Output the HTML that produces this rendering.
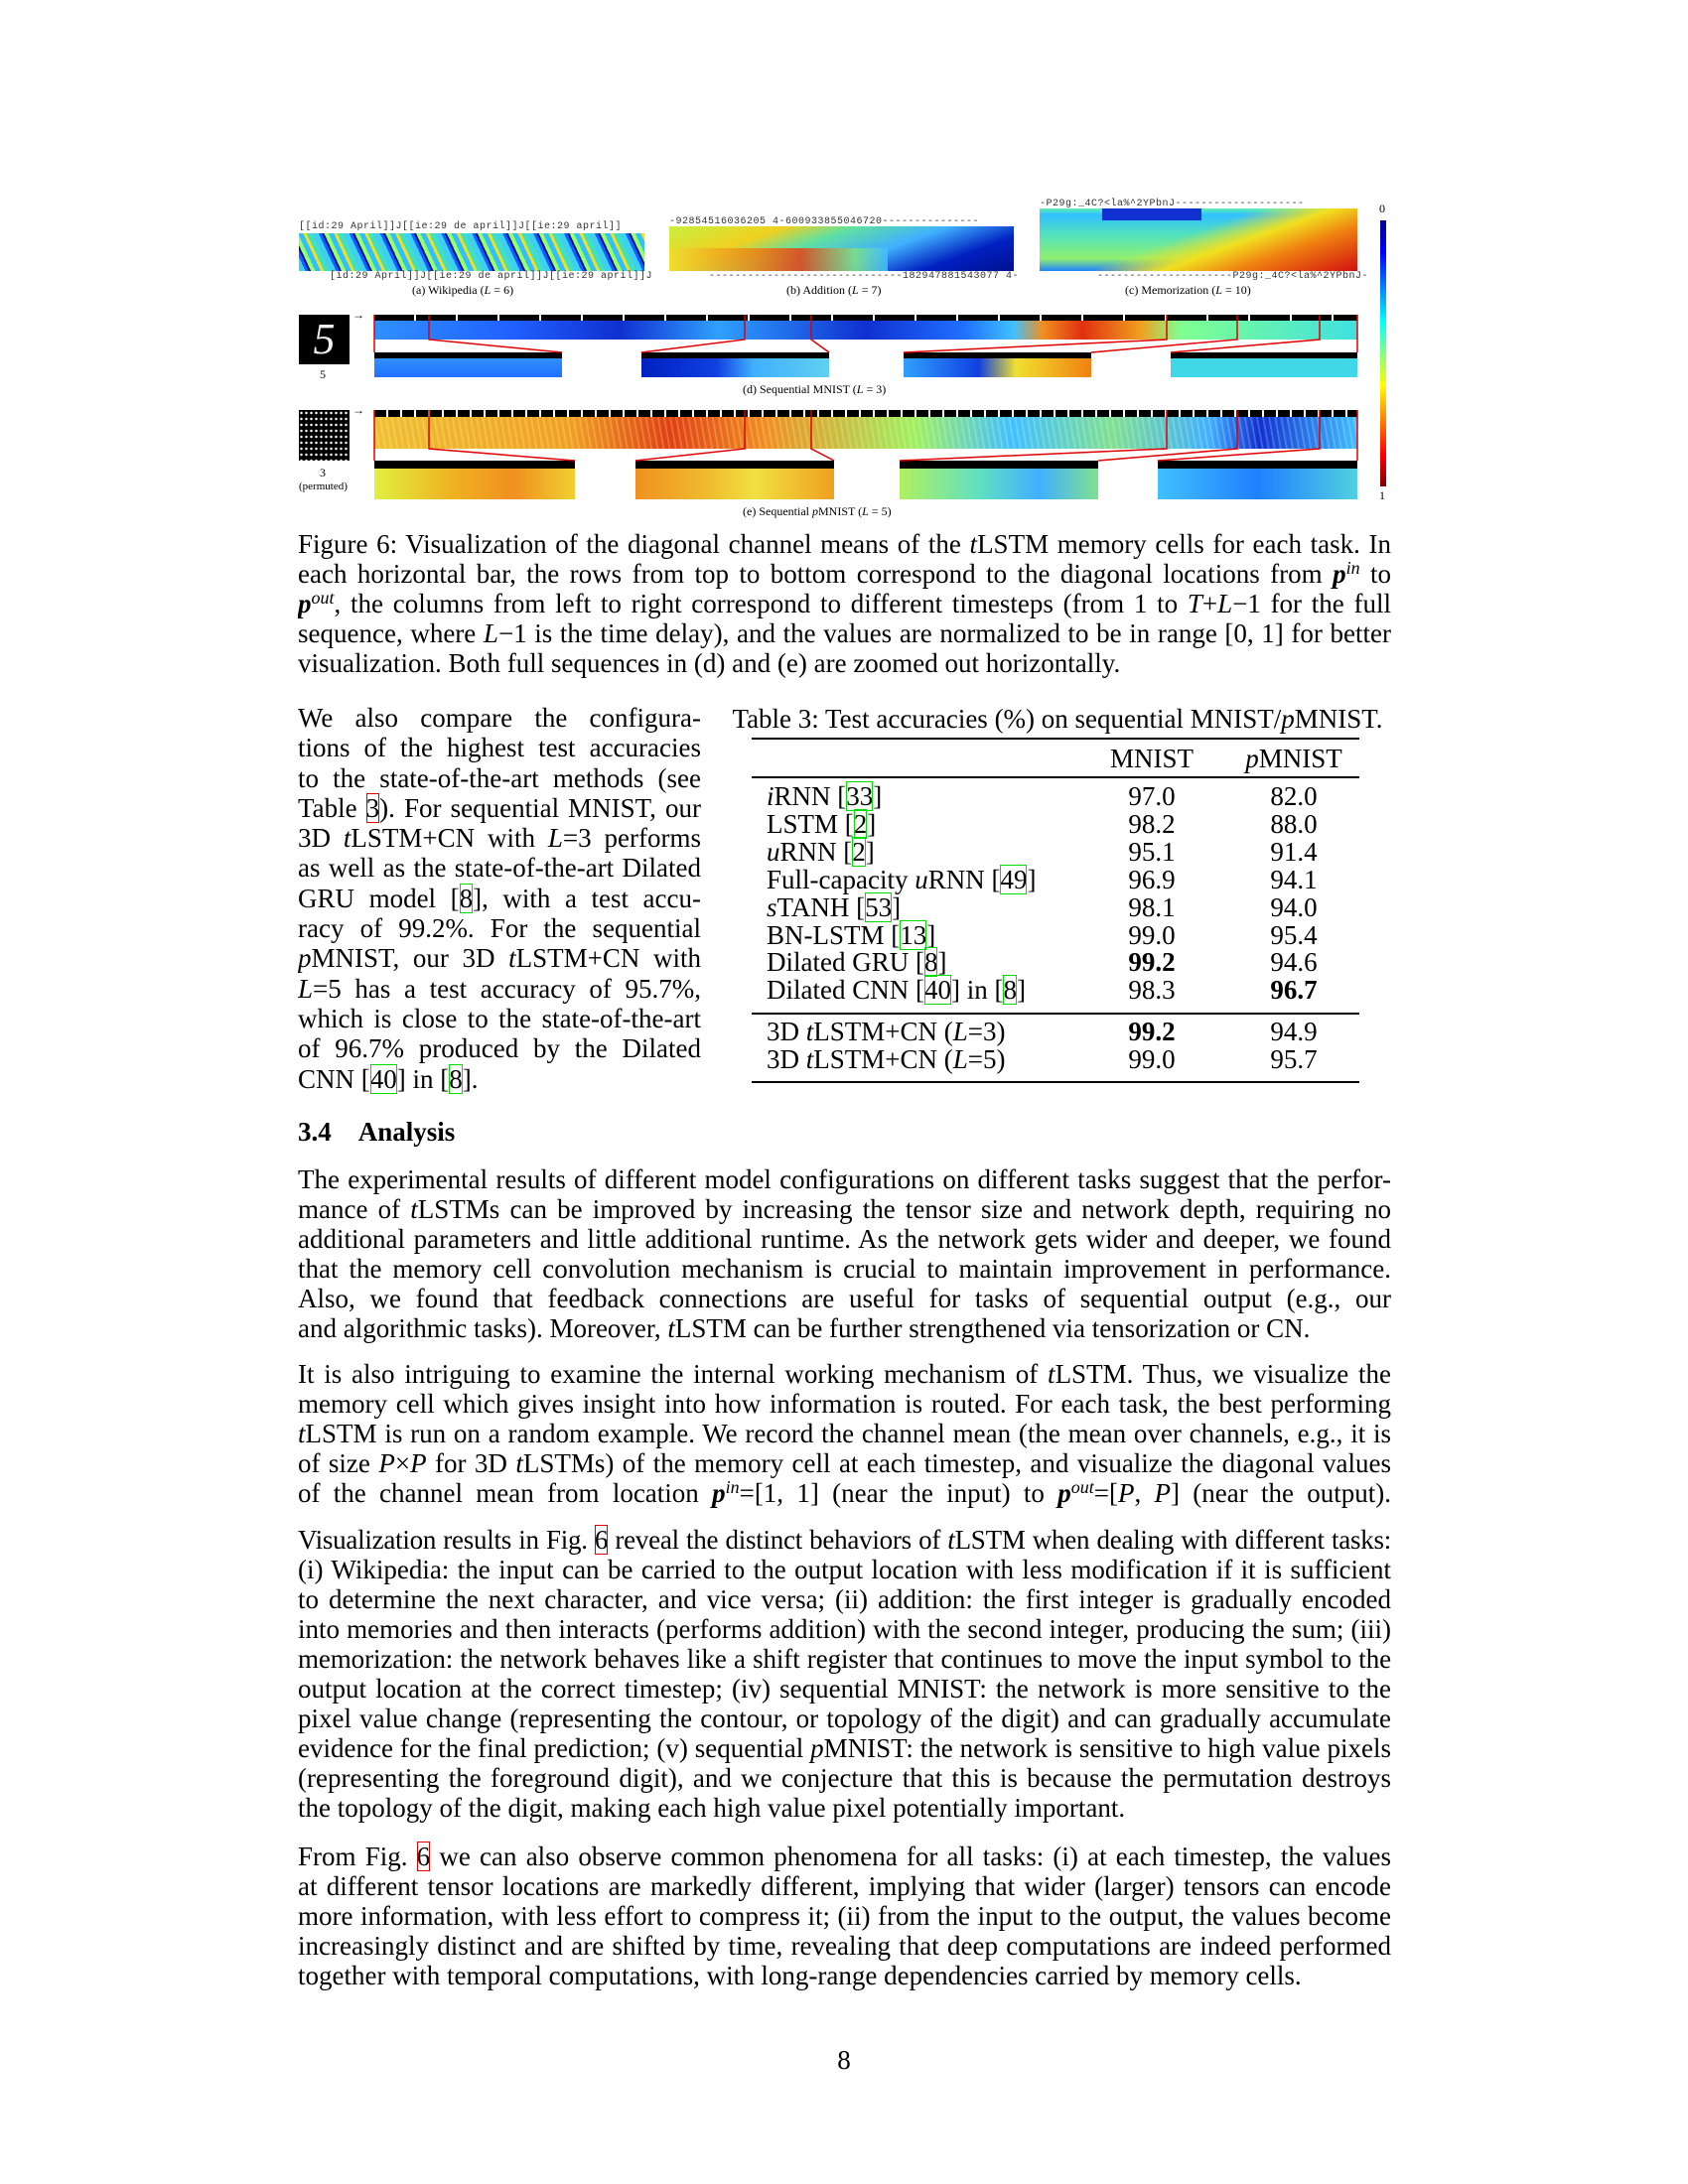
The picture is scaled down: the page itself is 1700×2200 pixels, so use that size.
<!DOCTYPE html>
<html><head><meta charset="utf-8">
<style>
body{margin:0;background:#fff;}
#page{position:relative;width:1700px;height:2200px;background:#fff;font-family:"Liberation Serif",serif;font-size:27px;color:#000;overflow:hidden;}
.blk{position:absolute;line-height:30px;}
.l{display:block;height:30px;white-space:nowrap;}
.j{text-align:justify;text-align-last:justify;white-space:normal;overflow:hidden;}
sup{font-size:18px;line-height:0;vertical-align:9px;}
.g{outline:1.5px solid #00e000;outline-offset:-1px;}
.r{outline:1.5px solid #e00000;outline-offset:-1px;}
.abs{position:absolute;}
.sm{font-size:12px;line-height:14px;white-space:nowrap;}
.mono{font-family:"Liberation Mono",monospace;font-size:10px;letter-spacing:0.5px;color:#333;white-space:nowrap;}
</style></head><body>
<div id="page">

<div>
 <div class="abs mono" style="left:301px;top:223px;">[[id:29 April]]J[[ie:29 de april]]J[[ie:29 april]]</div>
 <div class="abs" style="left:301px;top:235px;width:348px;height:38px;background:repeating-linear-gradient(65deg,#3fd0f0 0 6px,#1060ff 6px 9px,#0010a0 9px 11px,#9aff60 11px 15px,#30c0ff 15px 20px,#f0e020 20px 23px,#40e0c0 23px 28px);"></div>
 <div class="abs mono" style="left:332px;top:273px;">[id:29 April]]J[[ie:29 de april]]J[[ie:29 april]]J</div>
 <div class="abs sm" style="left:415px;top:285px;">(a) Wikipedia (<i>L</i> = 6)</div>

 <div class="abs mono" style="left:674px;top:218px;">-92854516036205 4-600933855046720---------------</div>
 <div class="abs" style="left:674px;top:228px;width:347px;height:45px;background:linear-gradient(160deg,#c8f040 0%,#f0d020 25%,#60e0a0 40%,#40b0ff 60%,#0020c0 80%,#001090 100%);"></div>
 <div class="abs" style="left:674px;top:250px;width:220px;height:23px;background:linear-gradient(90deg,#f0e030,#f08010 40%,#e84010 60%,#80e080 85%,#40c0ff);opacity:.85;"></div>
 <div class="abs mono" style="left:714px;top:273px;">------------------------------182947881543077 4-</div>
 <div class="abs sm" style="left:792px;top:285px;">(b) Addition (<i>L</i> = 7)</div>

 <div class="abs mono" style="left:1047px;top:200px;">-P29g:_4C?&lt;la%^2YPbnJ--------------------</div>
 <div class="abs" style="left:1047px;top:210px;width:320px;height:63px;background:linear-gradient(160deg,rgba(0,0,0,0) 45%,#f0e020 60%,#f08010 75%,#d01010 100%),linear-gradient(180deg,#60f0b0 0%,#30c0ff 10%,#50e0c0 40%,#90f070 80%,#2080ff 100%);"></div>
 <div class="abs" style="left:1110px;top:210px;width:100px;height:12px;background:#1030d0;"></div>
 <div class="abs mono" style="left:1105px;top:273px;">---------------------P29g:_4C?&lt;la%^2YPbnJ-</div>
 <div class="abs sm" style="left:1133px;top:285px;">(c) Memorization (<i>L</i> = 10)</div>

 <div class="abs" style="left:1390px;top:222px;width:6px;height:268px;background:linear-gradient(180deg,#00008f,#0000ff 12%,#00ffff 38%,#80ff80 50%,#ffff00 62%,#ff0000 88%,#800000);"></div>
 <div class="abs sm" style="left:1389px;top:203px;">0</div>
 <div class="abs sm" style="left:1389px;top:492px;">1</div>

 <div class="abs" style="left:301px;top:317px;width:51px;height:50px;background:#000;color:#eee;font-size:44px;line-height:50px;text-align:center;font-family:'Liberation Serif',serif;font-style:italic;">5</div>
 <div class="abs sm" style="left:322px;top:370px;">5</div>
 <div class="abs sm" style="left:355px;top:310px;">→</div>
 <div class="abs" style="left:377px;top:317px;width:990px;height:6px;background:repeating-linear-gradient(90deg,#000 0 40px,#fff 40px 42px);"></div>
 <div class="abs" style="left:377px;top:323px;width:990px;height:19px;background:linear-gradient(90deg,#3090ff 0%,#2060ff 14%,#1030d0 25%,#30a0ff 35%,#1030d0 50%,#2070ff 60%,#40c0ff 65%,#f09020 68%,#e03010 72%,#f0a020 78%,#80ff90 82%,#40e0e0 100%);"></div>
 <div class="abs" style="left:377px;top:355px;width:189px;height:6px;background:#000;"></div>
 <div class="abs" style="left:377px;top:361px;width:189px;height:19px;background:linear-gradient(180deg,#3090ff,#2070ff);"></div>
 <div class="abs" style="left:646px;top:355px;width:189px;height:6px;background:#000;"></div>
 <div class="abs" style="left:646px;top:361px;width:189px;height:19px;background:linear-gradient(90deg,#0020c0,#1040e0 40%,#40b0ff 60%,#60d0f0);"></div>
 <div class="abs" style="left:910px;top:355px;width:189px;height:6px;background:#000;"></div>
 <div class="abs" style="left:910px;top:361px;width:189px;height:19px;background:linear-gradient(90deg,#30a0ff,#1040e0 40%,#f0e030 60%,#f08010 100%);"></div>
 <div class="abs" style="left:1179px;top:355px;width:188px;height:6px;background:#000;"></div>
 <div class="abs" style="left:1179px;top:361px;width:188px;height:19px;background:#40d8e8;"></div>
 <div class="abs sm" style="left:748px;top:385px;">(d) Sequential MNIST (<i>L</i> = 3)</div>

 <div class="abs" style="left:301px;top:413px;width:51px;height:51px;background:radial-gradient(circle,#fff 0 1px,#000 1.5px) 0 0/5px 6px;"></div>
 <div class="abs sm" style="left:322px;top:469px;">3</div>
 <div class="abs sm" style="left:301px;top:483px;font-size:11px;">(permuted)</div>
 <div class="abs sm" style="left:355px;top:406px;">→</div>
 <div class="abs" style="left:377px;top:413px;width:990px;height:7px;background:repeating-linear-gradient(90deg,#000 0 12px,#fff 12px 14px);"></div>
 <div class="abs" style="left:377px;top:420px;width:990px;height:32px;background:repeating-linear-gradient(80deg,rgba(255,255,255,0) 0 4px,rgba(255,255,255,.2) 4px 6px),linear-gradient(90deg,#f0c030 0%,#f0a020 20%,#e04010 30%,#f09020 40%,#a0f060 55%,#40c0ff 65%,#80e090 75%,#40b0ff 85%,#1030d0 90%,#40c0ff 100%);"></div>
 <div class="abs" style="left:377px;top:464px;width:202px;height:8px;background:#000;"></div>
 <div class="abs" style="left:377px;top:472px;width:202px;height:31px;background:linear-gradient(90deg,#e0f040,#f0b020 40%,#f09020 70%,#f0d030);"></div>
 <div class="abs" style="left:640px;top:464px;width:200px;height:8px;background:#000;"></div>
 <div class="abs" style="left:640px;top:472px;width:200px;height:31px;background:linear-gradient(90deg,#f09020,#f0c030 40%,#f0e040 60%,#f0a020);"></div>
 <div class="abs" style="left:906px;top:464px;width:200px;height:8px;background:#000;"></div>
 <div class="abs" style="left:906px;top:472px;width:200px;height:31px;background:linear-gradient(90deg,#b0f060,#60e0c0 40%,#40b0ff 70%,#80e090);"></div>
 <div class="abs" style="left:1166px;top:464px;width:201px;height:8px;background:#000;"></div>
 <div class="abs" style="left:1166px;top:472px;width:201px;height:31px;background:linear-gradient(90deg,#40c0ff,#2080ff 50%,#50d0e0);"></div>
 <div class="abs sm" style="left:748px;top:508px;">(e) Sequential <i>p</i>MNIST (<i>L</i> = 5)</div>

 <svg class="abs" style="left:0;top:0;" width="1700" height="560">
  <g stroke="#e00000" stroke-width="1.5" fill="none">
   <path d="M377 317V355M432 317V342L566 355M750 317V342L646 355M817 317V342L835 355M1175 317V342L910 355M1246 317V342L1099 355M1329 317V342L1179 355M1367 317V355"/>
   <path d="M377 413V464M432 413V452L579 464M750 413V452L640 464M817 413V452L840 464M1175 413V452L906 464M1246 413V452L1106 464M1329 413V452L1166 464M1367 413V464"/>
  </g>
 </svg>
</div>

<div class="blk" style="left:300px;top:533px;width:1101px;">
 <span class="l j">Figure 6: Visualization of the diagonal channel means of the <i>t</i>LSTM memory cells for each task. In</span>
 <span class="l j">each horizontal bar, the rows from top to bottom correspond to the diagonal locations from <b><i>p</i></b><sup><i>in</i></sup> to</span>
 <span class="l j"><b><i>p</i></b><sup><i>out</i></sup>, the columns from left to right correspond to different timesteps (from 1 to <i>T</i>+<i>L</i>−1 for the full</span>
 <span class="l j">sequence, where <i>L</i>−1 is the time delay), and the values are normalized to be in range [0, 1] for better</span>
 <span class="l">visualization. Both full sequences in (d) and (e) are zoomed out horizontally.</span>
</div>

<div class="blk" style="left:300px;top:708px;width:406px;line-height:30.3px;">
 <span class="l j" style="height:30.3px">We also compare the configura-</span>
 <span class="l j" style="height:30.3px">tions of the highest test accuracies</span>
 <span class="l j" style="height:30.3px">to the state-of-the-art methods (see</span>
 <span class="l j" style="height:30.3px">Table <span class="r">3</span>). For sequential MNIST, our</span>
 <span class="l j" style="height:30.3px">3D <i>t</i>LSTM+CN with <i>L</i>=3 performs</span>
 <span class="l j" style="height:30.3px">as well as the state-of-the-art Dilated</span>
 <span class="l j" style="height:30.3px">GRU model [<span class="g">8</span>], with a test accu-</span>
 <span class="l j" style="height:30.3px">racy of 99.2%. For the sequential</span>
 <span class="l j" style="height:30.3px"><i>p</i>MNIST, our 3D <i>t</i>LSTM+CN with</span>
 <span class="l j" style="height:30.3px"><i>L</i>=5 has a test accuracy of 95.7%,</span>
 <span class="l j" style="height:30.3px">which is close to the state-of-the-art</span>
 <span class="l j" style="height:30.3px">of 96.7% produced by the Dilated</span>
 <span class="l" style="height:30.3px">CNN [<span class="g">40</span>] in [<span class="g">8</span>].</span>
</div>

<div class="abs" style="left:725px;top:709px;width:680px;line-height:30px;text-align:center;white-space:nowrap;">Table 3: Test accuracies (%) on sequential MNIST/<i>p</i>MNIST.</div>
<div class="abs" style="left:757px;top:743px;width:612px;height:2px;background:#000;"></div>
<div class="abs" style="left:757px;top:782px;width:612px;height:1.5px;background:#000;"></div>
<div class="abs" style="left:757px;top:1020px;width:612px;height:1.5px;background:#000;"></div>
<div class="abs" style="left:757px;top:1089px;width:612px;height:2px;background:#000;"></div>
<div class="abs" style="left:1100px;top:749px;width:120px;text-align:center;line-height:30px;">MNIST</div>
<div class="abs" style="left:1240px;top:749px;width:126px;text-align:center;line-height:30px;"><i>p</i>MNIST</div>
<div class="abs" style="left:772px;top:789px;line-height:27.9px;white-space:nowrap;">
 <div><i>i</i>RNN [<span class="g">33</span>]</div>
 <div>LSTM [<span class="g">2</span>]</div>
 <div><i>u</i>RNN [<span class="g">2</span>]</div>
 <div>Full-capacity <i>u</i>RNN [<span class="g">49</span>]</div>
 <div><i>s</i>TANH [<span class="g">53</span>]</div>
 <div>BN-LSTM [<span class="g">13</span>]</div>
 <div>Dilated GRU [<span class="g">8</span>]</div>
 <div>Dilated CNN [<span class="g">40</span>] in [<span class="g">8</span>]</div>
</div>
<div class="abs" style="left:1100px;top:789px;width:120px;text-align:center;line-height:27.9px;">
 <div>97.0</div><div>98.2</div><div>95.1</div><div>96.9</div><div>98.1</div><div>99.0</div><div><b>99.2</b></div><div>98.3</div>
</div>
<div class="abs" style="left:1243px;top:789px;width:120px;text-align:center;line-height:27.9px;">
 <div>82.0</div><div>88.0</div><div>91.4</div><div>94.1</div><div>94.0</div><div>95.4</div><div>94.6</div><div><b>96.7</b></div>
</div>
<div class="abs" style="left:772px;top:1026px;line-height:27.5px;white-space:nowrap;">
 <div>3D <i>t</i>LSTM+CN (<i>L</i>=3)</div>
 <div>3D <i>t</i>LSTM+CN (<i>L</i>=5)</div>
</div>
<div class="abs" style="left:1100px;top:1026px;width:120px;text-align:center;line-height:27.5px;"><div><b>99.2</b></div><div>99.0</div></div>
<div class="abs" style="left:1243px;top:1026px;width:120px;text-align:center;line-height:27.5px;"><div>94.9</div><div>95.7</div></div>

<div class="abs" style="left:300px;top:1125px;line-height:30px;font-weight:bold;white-space:nowrap;">3.4&nbsp;&nbsp;&nbsp;&nbsp;Analysis</div>

<div class="blk" style="left:300px;top:1173px;width:1101px;">
 <span class="l j">The experimental results of different model configurations on different tasks suggest that the perfor-</span>
 <span class="l j">mance of <i>t</i>LSTMs can be improved by increasing the tensor size and network depth, requiring no</span>
 <span class="l j">additional parameters and little additional runtime. As the network gets wider and deeper, we found</span>
 <span class="l j">that the memory cell convolution mechanism is crucial to maintain improvement in performance.</span>
 <span class="l j">Also, we found that feedback connections are useful for tasks of sequential output (e.g., our Wikipedia</span>
 <span class="l">and algorithmic tasks). Moreover, <i>t</i>LSTM can be further strengthened via tensorization or CN.</span>
</div>

<div class="blk" style="left:300px;top:1369px;width:1101px;">
 <span class="l j">It is also intriguing to examine the internal working mechanism of <i>t</i>LSTM. Thus, we visualize the</span>
 <span class="l j">memory cell which gives insight into how information is routed. For each task, the best performing</span>
 <span class="l j"><i>t</i>LSTM is run on a random example. We record the channel mean (the mean over channels, e.g., it is</span>
 <span class="l j">of size <i>P</i>×<i>P</i> for 3D <i>t</i>LSTMs) of the memory cell at each timestep, and visualize the diagonal values</span>
 <span class="l j">of the channel mean from location <b><i>p</i></b><sup><i>in</i></sup>=[1, 1] (near the input) to <b><i>p</i></b><sup><i>out</i></sup>=[<i>P</i>, <i>P</i>] (near the output).</span>
</div>

<div class="blk" style="left:300px;top:1536px;width:1101px;">
 <span class="l j" style="letter-spacing:-0.25px;word-spacing:-1px">Visualization results in Fig. <span class="r">6</span> reveal the distinct behaviors of <i>t</i>LSTM when dealing with different tasks:</span>
 <span class="l j">(i) Wikipedia: the input can be carried to the output location with less modification if it is sufficient</span>
 <span class="l j">to determine the next character, and vice versa; (ii) addition: the first integer is gradually encoded</span>
 <span class="l j">into memories and then interacts (performs addition) with the second integer, producing the sum; (iii)</span>
 <span class="l j" style="letter-spacing:-0.1px">memorization: the network behaves like a shift register that continues to move the input symbol to the</span>
 <span class="l j">output location at the correct timestep; (iv) sequential MNIST: the network is more sensitive to the</span>
 <span class="l j">pixel value change (representing the contour, or topology of the digit) and can gradually accumulate</span>
 <span class="l j">evidence for the final prediction; (v) sequential <i>p</i>MNIST: the network is sensitive to high value pixels</span>
 <span class="l j">(representing the foreground digit), and we conjecture that this is because the permutation destroys</span>
 <span class="l">the topology of the digit, making each high value pixel potentially important.</span>
</div>

<div class="blk" style="left:300px;top:1855px;width:1101px;">
 <span class="l j">From Fig. <span class="r">6</span> we can also observe common phenomena for all tasks: (i) at each timestep, the values</span>
 <span class="l j">at different tensor locations are markedly different, implying that wider (larger) tensors can encode</span>
 <span class="l j">more information, with less effort to compress it; (ii) from the input to the output, the values become</span>
 <span class="l j">increasingly distinct and are shifted by time, revealing that deep computations are indeed performed</span>
 <span class="l">together with temporal computations, with long-range dependencies carried by memory cells.</span>
</div>

<div class="abs" style="left:800px;top:2060px;width:100px;text-align:center;line-height:30px;">8</div>
</div>
</body></html>
